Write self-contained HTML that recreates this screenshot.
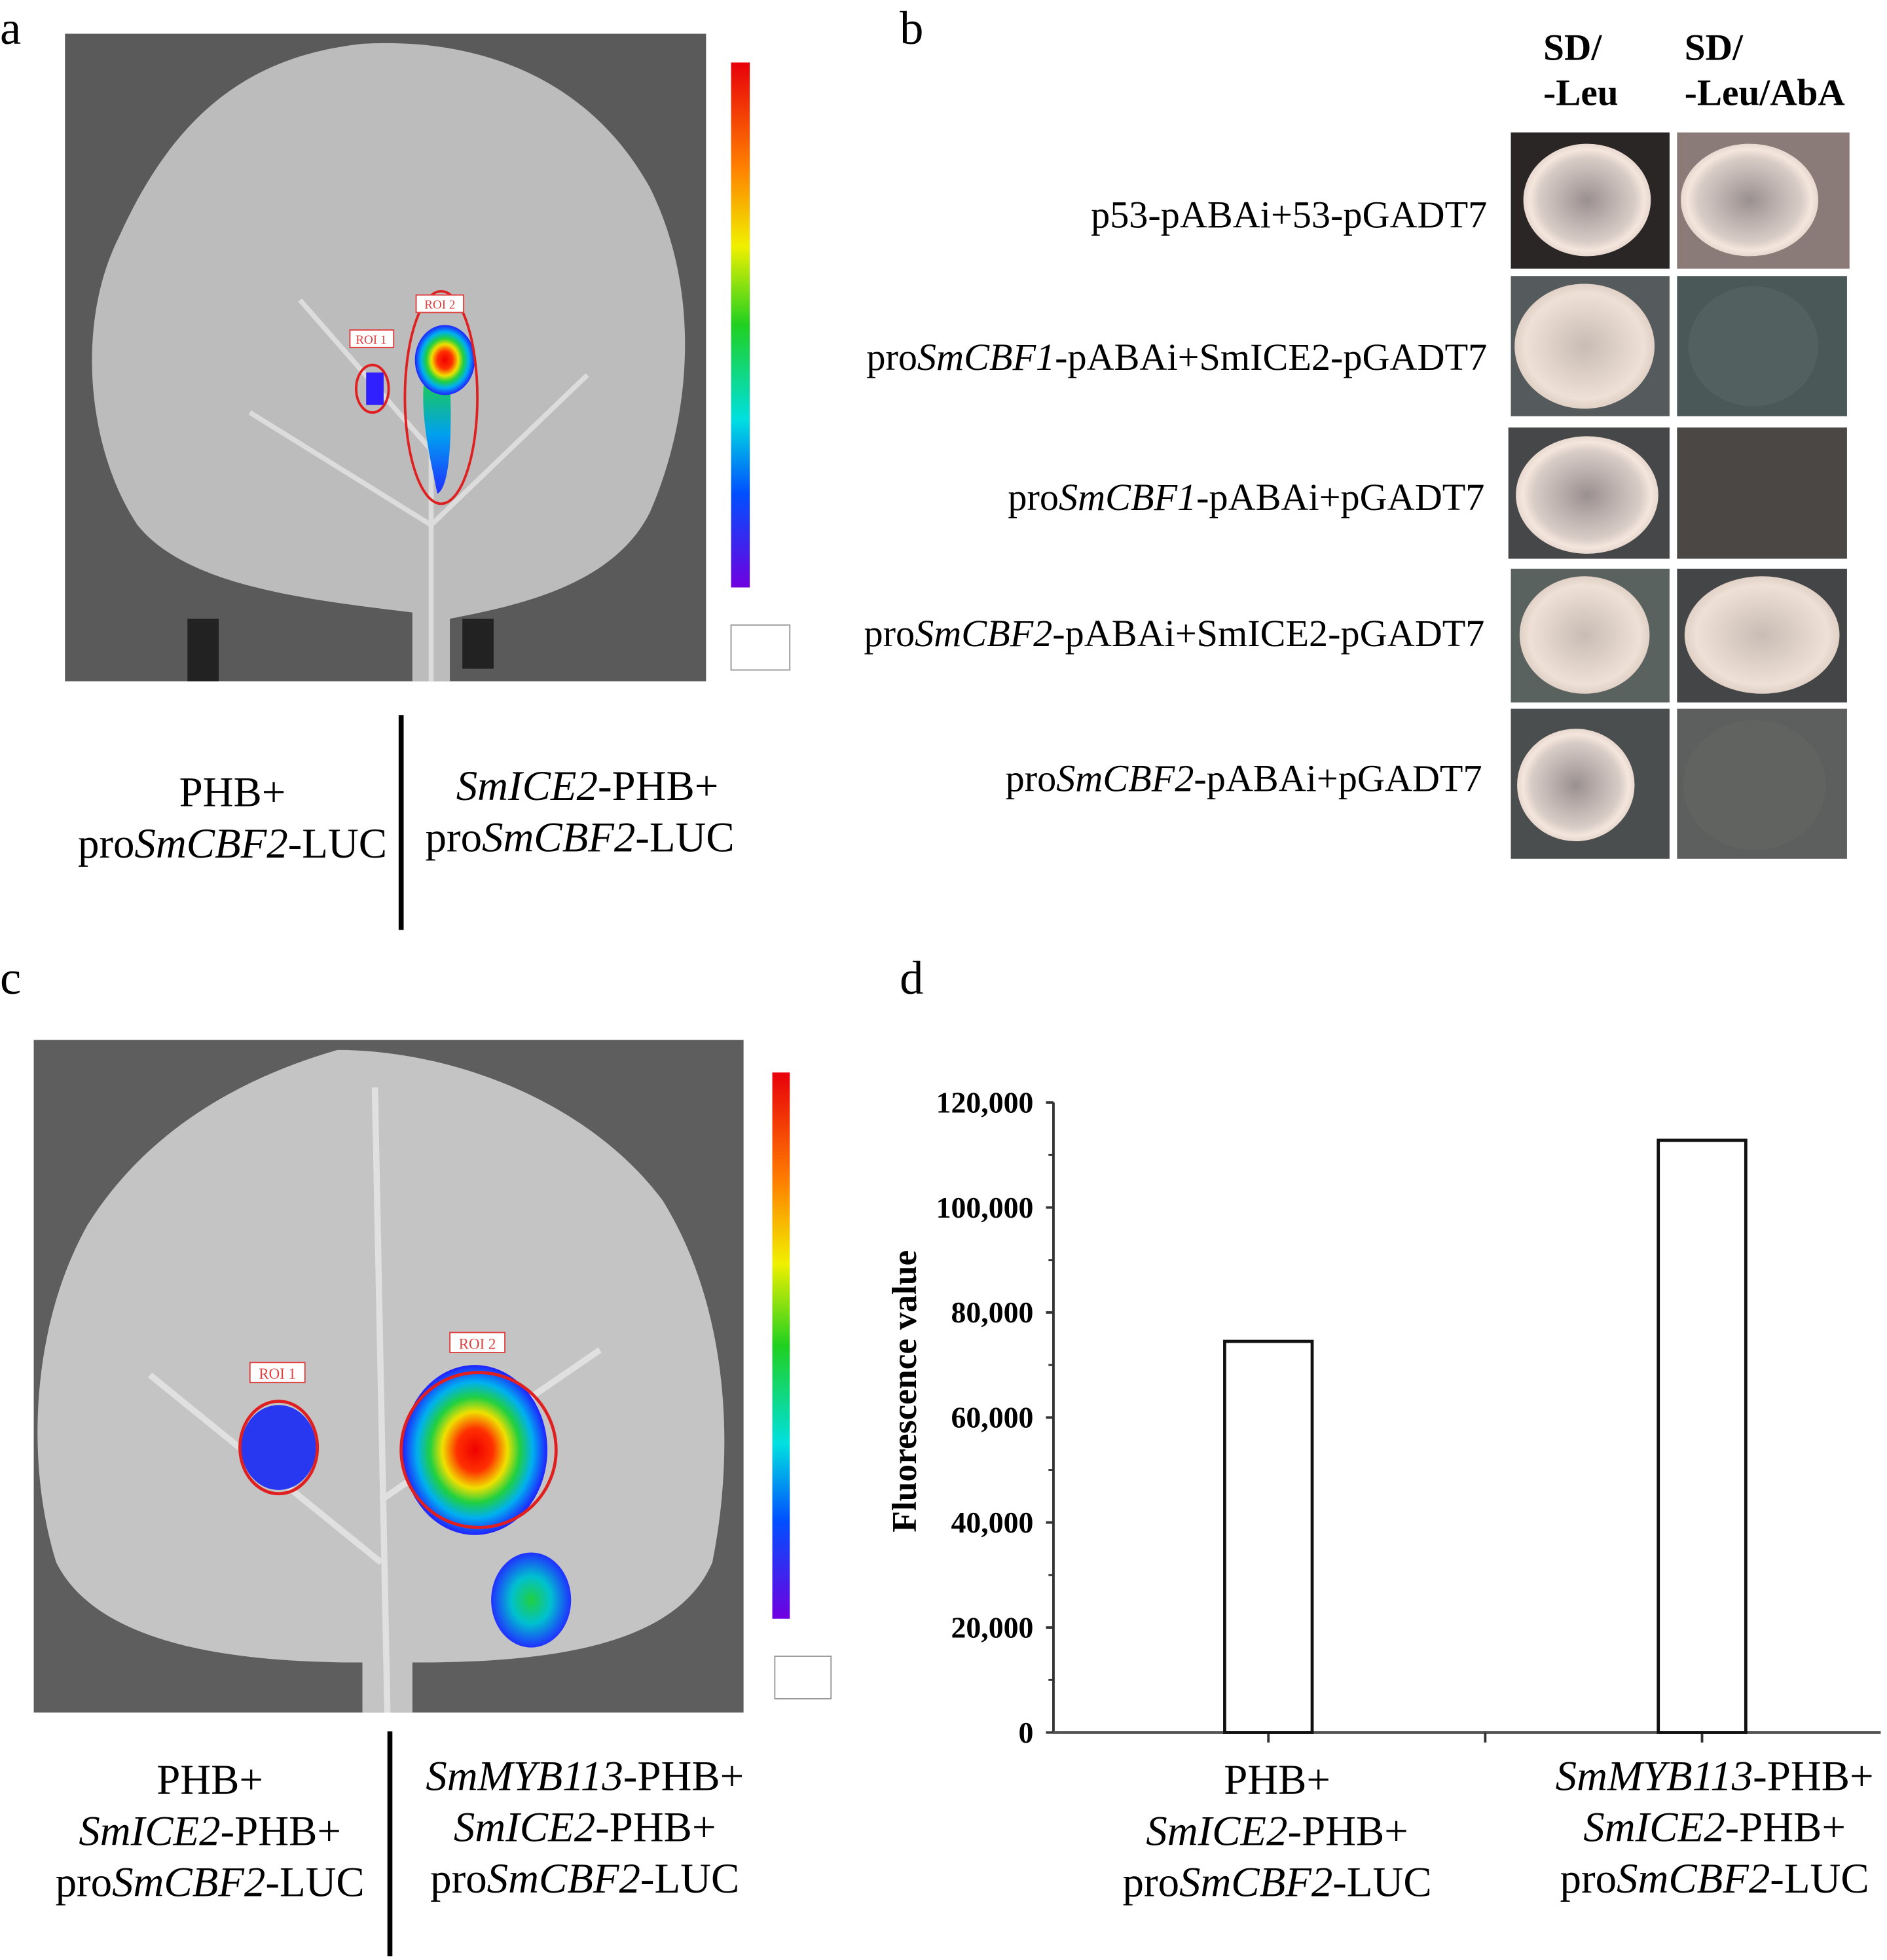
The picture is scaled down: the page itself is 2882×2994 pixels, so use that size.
<!DOCTYPE html>
<html><head><meta charset="utf-8"><style>
html,body{margin:0;padding:0;background:#fff}
svg{display:block}
text{font-family:"Liberation Serif",serif;fill:#000}
</style></head><body>
<svg id="fig" width="2882" height="2994" viewBox="0 0 1510 1568" preserveAspectRatio="none" xmlns="http://www.w3.org/2000/svg">
<defs>
<linearGradient id="cbar" x1="0" y1="0" x2="0" y2="1">
<stop offset="0" stop-color="#e8000a"/><stop offset="0.2" stop-color="#ff8000"/><stop offset="0.35" stop-color="#f0f000"/><stop offset="0.5" stop-color="#20d020"/><stop offset="0.68" stop-color="#00e0e0"/><stop offset="0.82" stop-color="#0050ff"/><stop offset="1" stop-color="#7000e0"/>
</linearGradient>
<radialGradient id="heat">
<stop offset="0" stop-color="#f00000"/><stop offset="0.25" stop-color="#ff3000"/><stop offset="0.45" stop-color="#f0e000"/><stop offset="0.62" stop-color="#20d040"/><stop offset="0.8" stop-color="#00b0f0"/><stop offset="1" stop-color="#2020ff"/>
</radialGradient>
<radialGradient id="heatg">
<stop offset="0" stop-color="#20d040"/><stop offset="0.5" stop-color="#00c0d0"/><stop offset="1" stop-color="#2030ff"/>
</radialGradient>
<linearGradient id="tail" x1="0" y1="0" x2="0" y2="1"><stop offset="0" stop-color="#20d040"/><stop offset="0.5" stop-color="#00a0f0"/><stop offset="1" stop-color="#2030ff"/></linearGradient>
<radialGradient id="colony"><stop offset="0" stop-color="#9a9090"/><stop offset="0.75" stop-color="#d8ccc6"/><stop offset="0.9" stop-color="#f4e6dc"/><stop offset="1" stop-color="#e8d8d0"/></radialGradient>
<radialGradient id="colonyL"><stop offset="0" stop-color="#c8bcb4"/><stop offset="0.85" stop-color="#eee0d6"/><stop offset="1" stop-color="#e0d0c6"/></radialGradient>
</defs>

<!-- Panel a -->
<text x="0" y="35" font-size="38">a</text>
<g>
<rect x="52" y="27" width="513" height="518" fill="#5a5a5a"/>
<path d="M330 545 L330 490 C250 480 150 470 110 420 C70 360 60 260 95 190 C140 90 200 45 290 35 C380 30 470 60 520 150 C560 230 555 330 520 410 C490 470 410 485 360 495 L360 545 Z" fill="#bcbcbc"/>
<path d="M345 545 L345 300 M345 420 L200 330 M345 420 L470 300 M345 360 L240 240" stroke="#dcdcdc" stroke-width="4" fill="none"/>
<rect x="150" y="495" width="25" height="50" fill="#222"/><rect x="370" y="495" width="25" height="40" fill="#222"/>
<path d="M340 300 C335 330 345 370 350 395 C360 390 362 350 360 300 Z" fill="url(#tail)"/>
<ellipse cx="356" cy="288" rx="24" ry="28" fill="url(#heat)"/>
<rect x="293" y="298" width="14" height="26" fill="#3020ff"/>
<ellipse cx="353" cy="318" rx="29" ry="85" fill="none" stroke="#e02020" stroke-width="2"/>
<ellipse cx="298" cy="311" rx="13" ry="19" fill="none" stroke="#e02020" stroke-width="2"/>
<rect x="280" y="264" width="35" height="14" fill="#fff" stroke="#e04040"/><text x="297" y="275" font-size="10" text-anchor="middle" style="fill:#e04040">ROI 1</text>
<rect x="333" y="236" width="38" height="14" fill="#fff" stroke="#e04040"/><text x="352" y="247" font-size="10" text-anchor="middle" style="fill:#e04040">ROI 2</text>
</g>
<rect x="585" y="50" width="15" height="420" fill="url(#cbar)"/>
<rect x="585" y="500" width="47" height="36" fill="#fff" stroke="#999"/>
<line x1="321" y1="572" x2="321" y2="744" stroke="#000" stroke-width="4"/>
<text x="186" y="645" font-size="34" text-anchor="middle">PHB+</text>
<text x="186" y="686" font-size="34" text-anchor="middle">pro<tspan font-style="italic">SmCBF2</tspan>-LUC</text>
<text x="470" y="640" font-size="34" text-anchor="middle"><tspan font-style="italic">SmICE2</tspan>-PHB+</text>
<text x="464" y="681" font-size="34" text-anchor="middle">pro<tspan font-style="italic">SmCBF2</tspan>-LUC</text>

<!-- Panel b -->
<text x="720" y="35" font-size="38">b</text>
<text x="1235" y="48" font-size="30" font-weight="bold">SD/</text>
<text x="1235" y="84" font-size="30" font-weight="bold">-Leu</text>
<text x="1348" y="48" font-size="30" font-weight="bold">SD/</text>
<text x="1348" y="84" font-size="30" font-weight="bold">-Leu/AbA</text>
<g font-size="30.5" text-anchor="end">
<text x="1190" y="182">p53-pABAi+53-pGADT7</text>
<text x="1190" y="296">pro<tspan font-style="italic">SmCBF1</tspan>-pABAi+SmICE2-pGADT7</text>
<text x="1188" y="408">pro<tspan font-style="italic">SmCBF1</tspan>-pABAi+pGADT7</text>
<text x="1188" y="517">pro<tspan font-style="italic">SmCBF2</tspan>-pABAi+SmICE2-pGADT7</text>
<text x="1186" y="633">pro<tspan font-style="italic">SmCBF2</tspan>-pABAi+pGADT7</text>
</g>
<g>
<rect x="1209" y="106" width="127" height="109" fill="#2a2626"/><ellipse cx="1270" cy="160" rx="51" ry="45" fill="url(#colony)"/>
<rect x="1342" y="106" width="138" height="109" fill="#8a7a78"/><ellipse cx="1400" cy="160" rx="55" ry="45" fill="url(#colony)"/>
<rect x="1209" y="221" width="127" height="112" fill="#555a5c"/><ellipse cx="1268" cy="277" rx="56" ry="50" fill="url(#colonyL)"/>
<rect x="1342" y="221" width="136" height="112" fill="#4a5858"/><ellipse cx="1403" cy="277" rx="52" ry="48" fill="#52605f"/>
<rect x="1207" y="342" width="129" height="105" fill="#454748"/><ellipse cx="1270" cy="396" rx="57" ry="47" fill="url(#colony)"/>
<rect x="1342" y="342" width="136" height="105" fill="#4a4744"/>
<rect x="1209" y="455" width="127" height="107" fill="#5a6260"/><ellipse cx="1268" cy="508" rx="52" ry="47" fill="url(#colonyL)"/>
<rect x="1342" y="455" width="136" height="107" fill="#444546"/><ellipse cx="1410" cy="508" rx="62" ry="47" fill="url(#colonyL)"/>
<rect x="1209" y="567" width="127" height="120" fill="#4a4e4e"/><ellipse cx="1261" cy="628" rx="47" ry="45" fill="url(#colony)"/>
<rect x="1342" y="567" width="136" height="120" fill="#5c5f5e"/><ellipse cx="1404" cy="628" rx="57" ry="52" fill="#60635f"/>
</g>

<!-- Panel c -->
<text x="0" y="795" font-size="38">c</text>
<g>
<rect x="27" y="832" width="568" height="538" fill="#5e5e5e"/>
<path d="M290 1370 L290 1330 C200 1330 80 1320 45 1250 C20 1170 25 1060 70 980 C120 900 200 860 270 840 C360 840 470 880 530 960 C580 1040 590 1150 570 1250 C540 1320 430 1330 330 1330 L330 1370 Z" fill="#c4c4c4"/>
<path d="M310 1370 L300 870 M305 1250 L120 1100 M305 1200 L480 1080" stroke="#e0e0e0" stroke-width="5" fill="none"/>
<ellipse cx="380" cy="1160" rx="58" ry="68" fill="url(#heat)"/>
<ellipse cx="425" cy="1280" rx="32" ry="38" fill="url(#heatg)"/>
<ellipse cx="223" cy="1158" rx="30" ry="34" fill="#2838f0"/>
<circle cx="383" cy="1160" r="62" fill="none" stroke="#e02020" stroke-width="2.5"/>
<ellipse cx="223" cy="1158" rx="31" ry="37" fill="none" stroke="#e02020" stroke-width="2.5"/>
<rect x="200" y="1090" width="44" height="16" fill="#fff" stroke="#e04040"/><text x="222" y="1103" font-size="12" text-anchor="middle" style="fill:#e04040">ROI 1</text>
<rect x="360" y="1066" width="44" height="16" fill="#fff" stroke="#e04040"/><text x="382" y="1079" font-size="12" text-anchor="middle" style="fill:#e04040">ROI 2</text>
</g>
<rect x="618" y="858" width="14" height="437" fill="url(#cbar)"/>
<rect x="620" y="1325" width="45" height="34" fill="#fff" stroke="#999"/>
<line x1="312" y1="1385" x2="312" y2="1565" stroke="#000" stroke-width="4"/>
<g font-size="34" text-anchor="middle">
<text x="168" y="1435">PHB+</text>
<text x="168" y="1476"><tspan font-style="italic">SmICE2</tspan>-PHB+</text>
<text x="168" y="1517">pro<tspan font-style="italic">SmCBF2</tspan>-LUC</text>
<text x="468" y="1432"><tspan font-style="italic">SmMYB113</tspan>-PHB+</text>
<text x="468" y="1473"><tspan font-style="italic">SmICE2</tspan>-PHB+</text>
<text x="468" y="1514">pro<tspan font-style="italic">SmCBF2</tspan>-LUC</text>
</g>

<!-- Panel d -->
<text x="720" y="795" font-size="38">d</text>
<g id="chart"></g>
<text transform="translate(733,1113) rotate(-90)" font-size="28" font-weight="bold" text-anchor="middle">Fluorescence value</text>
<g font-size="34" text-anchor="middle">
<text x="1022" y="1435">PHB+</text>
<text x="1022" y="1476"><tspan font-style="italic">SmICE2</tspan>-PHB+</text>
<text x="1022" y="1517">pro<tspan font-style="italic">SmCBF2</tspan>-LUC</text>
<text x="1372" y="1432"><tspan font-style="italic">SmMYB113</tspan>-PHB+</text>
<text x="1372" y="1473"><tspan font-style="italic">SmICE2</tspan>-PHB+</text>
<text x="1372" y="1514">pro<tspan font-style="italic">SmCBF2</tspan>-LUC</text>
</g>
</svg>
<script>
const categories = ["PHB+SmICE2-PHB+proSmCBF2-LUC", "SmMYB113-PHB+SmICE2-PHB+proSmCBF2-LUC"];
const values = [74500, 112800];
const yTicks = [0, 20000, 40000, 60000, 80000, 100000, 120000];
const yTickLabels = ["0", "20,000", "40,000", "60,000", "80,000", "100,000", "120,000"];
const NS = "http://www.w3.org/2000/svg";
const g = document.getElementById("chart");
const x0 = 843, x1 = 1505, yBase = 1386, yTop = 882, yMax = 120000;
function y(v){ return yBase - v / yMax * (yBase - yTop); }
function xc(i){ return 1015 + i * 347; }
function mk(tag, attrs){ const e = document.createElementNS(NS, tag); for (const k in attrs) e.setAttribute(k, attrs[k]); g.appendChild(e); return e; }
const ya = mk("line", {x1:x0, y1:yTop, x2:x0, y2:yBase, stroke:"#333", "stroke-width":2});


const xa = mk("line", {x1:x0, y1:yBase, x2:x1, y2:yBase, stroke:"#555", "stroke-width":2.5});


yTicks.forEach((t, i) => {
  mk("line", {x1:x0-6, y1:y(t), x2:x0, y2:y(t), stroke:"#333", "stroke-width":2});
  if (i < yTicks.length - 1) mk("line", {x1:x0-4, y1:y(t + 10000), x2:x0, y2:y(t + 10000), stroke:"#333", "stroke-width":1.5});
  const tx = mk("text", {x:x0-16, y:y(t)+8, "font-size":24, "font-weight":"bold", "text-anchor":"end"});
  tx.textContent = yTickLabels[i];
  
  
});
[xc(0), (xc(0)+xc(1))/2, xc(1)].forEach(xx => mk("line", {x1:xx, y1:yBase, x2:xx, y2:yBase+8, stroke:"#333", "stroke-width":2}));
values.forEach((v, i) => {
  const r = mk("rect", {x:xc(i)-35, y:y(v), width:70, height:yBase - y(v), fill:"#fff", stroke:"#111", "stroke-width":2.5});
  
  
});
</script>
</body></html>
